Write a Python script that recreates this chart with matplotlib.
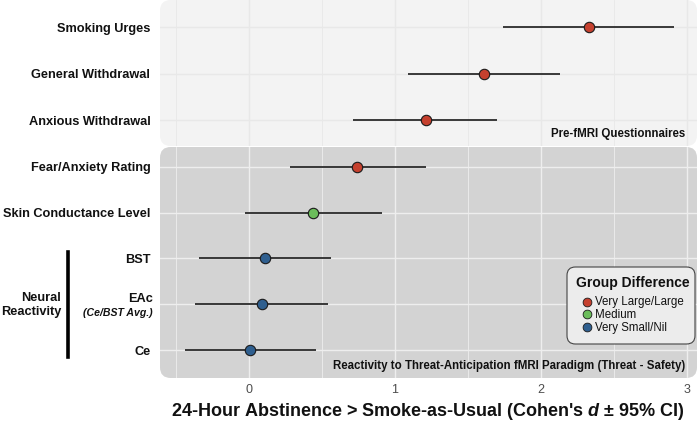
import matplotlib.pyplot as plt
from matplotlib.patches import FancyBboxPatch
from matplotlib.lines import Line2D

plt.rcParams['font.family'] = ['Liberation Sans', 'DejaVu Sans']
plt.rcParams['mathtext.fontset'] = 'custom'
plt.rcParams['mathtext.it'] = 'Liberation Sans:italic:bold'

# pre-fMRI questionnaires (top panel)
top_labels = ['Smoking Urges', 'General Withdrawal', 'Anxious Withdrawal']
top_d = [2.33, 1.61, 1.21]
top_lo = [1.74, 1.09, 0.71]
top_hi = [2.91, 2.13, 1.70]
top_grp = ['large', 'large', 'large']

# threat-anticipation paradigm (bottom panel)
bot_labels = ['Fear/Anxiety Rating', 'Skin Conductance Level', 'BST', '', 'Ce']
bot_d = [0.74, 0.44, 0.11, 0.09, 0.01]
bot_lo = [0.28, -0.03, -0.34, -0.37, -0.44]
bot_hi = [1.21, 0.91, 0.56, 0.54, 0.46]
bot_grp = ['large', 'medium', 'small', 'small', 'small']

colors = {'large': '#c5402e', 'medium': '#6bbd5b', 'small': '#2f5f8f'}
legend_names = {'large': 'Very Large/Large', 'medium': 'Medium', 'small': 'Very Small/Nil'}

W, H = 700, 424
fig = plt.figure(figsize=(7, 4.24), dpi=100)

ax_top = fig.add_axes([160 / W, (H - 146) / H, 537 / W, 146 / H])
ax_bot = fig.add_axes([160 / W, (H - 378) / H, 537 / W, 231 / H])


def draw_panel(ax, labels, d, lo, hi, grp, bg, gridc, ylim):
    ax.patch.set_visible(False)
    for s in ax.spines.values():
        s.set_visible(False)
    asp = ax.bbox.width / ax.bbox.height
    box = FancyBboxPatch((0, 0), 1, 1, boxstyle='round,pad=0,rounding_size=0.02',
                         mutation_aspect=asp, transform=ax.transAxes,
                         facecolor=bg, edgecolor='none', zorder=0, clip_on=False)
    ax.add_patch(box)
    y = list(range(len(labels)))
    ax.hlines(y, lo, hi, color='#2b2b2b', lw=1.3, zorder=3)
    for yi, di, g in zip(y, d, grp):
        ax.plot(di, yi, 'o', ms=7.5, mfc=colors[g], mec='#1a1a1a', mew=0.8, zorder=4)
    ax.set_xlim(-0.61, 3.07)
    ax.set_ylim(*ylim)
    ax.set_yticks(y)
    ax.set_yticklabels(labels, fontsize=9.2, fontweight='bold', color='#111111')
    ax.set_xticks([0, 1, 2, 3])
    ax.set_xticks([-0.5, 0.5, 1.5, 2.5], minor=True)
    ax.tick_params(axis='both', which='both', length=0, pad=7)
    ax.tick_params(axis='x', labelsize=9, labelcolor='#4d4d4d', pad=4)
    ax.grid(True, which='major', color=gridc, lw=1.0)
    ax.grid(True, which='minor', axis='x', color=gridc, lw=0.6)
    ax.set_axisbelow(True)
    for gl in ax.get_xgridlines() + ax.get_ygridlines():
        gl.set_clip_path(box)


draw_panel(ax_top, top_labels, top_d, top_lo, top_hi, top_grp,
           '#f3f3f3', '#e8e8e8', (2.56, -0.59))
draw_panel(ax_bot, bot_labels, bot_d, bot_lo, bot_hi, bot_grp,
           '#d3d3d3', '#eeeeee', (4.61, -0.43))
ax_top.tick_params(axis='x', labelbottom=False)

ax_top.text(0.978, 0.08, 'Pre-fMRI Questionnaires', transform=ax_top.transAxes,
            ha='right', va='center', fontsize=8.3, fontweight='bold', color='#111111')
ax_bot.text(0.978, 0.052, 'Reactivity to Threat-Anticipation fMRI Paradigm (Threat - Safety)',
            transform=ax_bot.transAxes, ha='right', va='center', fontsize=8.3,
            fontweight='bold', color='#111111')

# EAc two-line label
ax_bot.text(-0.013, 3.02, 'EAc', transform=ax_bot.get_yaxis_transform(), ha='right',
            va='bottom', fontsize=9.2, fontweight='bold', color='#111111')
ax_bot.text(-0.013, 3.08, '(Ce/BST Avg.)', transform=ax_bot.get_yaxis_transform(), ha='right',
            va='top', fontsize=7.6, fontweight='bold', style='italic', color='#111111')

# neural reactivity bracket
fig.add_artist(Line2D([68 / W, 68 / W], [(H - 252) / H, (H - 357) / H], color='black', lw=2.6))
fig.text(61 / W, (H - 305) / H, 'Neural\nReactivity', ha='right', va='center',
         fontsize=9.2, fontweight='bold', color='#111111', linespacing=1.15)

fig.text(428 / W, (H - 411) / H, "24-Hour Abstinence > Smoke-as-Usual (Cohen's $d$ ± 95% CI)",
         ha='center', va='center', fontsize=13, fontweight='bold', color='#111111')


# legend box drawn by hand (pixel positions in figure)
def px(x, y):
    return x / W, (H - y) / H


lx0, ly0, lx1, ly1 = 567, 267, 695, 344
fig.add_artist(FancyBboxPatch(px(lx0, ly1), (lx1 - lx0) / W, (ly1 - ly0) / H,
                              boxstyle='round,pad=0,rounding_size=0.012',
                              mutation_aspect=W / H, transform=fig.transFigure,
                              facecolor='#ececec', edgecolor='#444444', lw=0.8))
fig.text(*px(576, 283), 'Group Difference', ha='left', va='center', fontsize=10,
         fontweight='bold', color='#111111')
for i, k in enumerate(['large', 'medium', 'small']):
    yy = 302 + i * 12.8
    mx, my = px(587, yy - 0.5)
    fig.add_artist(Line2D([mx], [my], ls='none', marker='o', ms=6.3,
                          mfc=colors[k], mec='#1a1a1a', mew=0.6))
    fig.text(*px(595, yy), legend_names[k], ha='left', va='center', fontsize=8.3,
             color='#111111')

fig.savefig('out.png', dpi=100)
